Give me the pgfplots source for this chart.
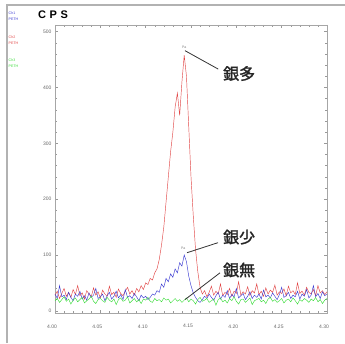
\documentclass[border=0pt]{standalone}
\usepackage{pgfplots}
\pgfplotsset{compat=1.18}
\usepackage{pgfplotstable}
\usepackage{fontspec}
\setmainfont{Liberation Sans}
\newfontfamily\jp[FakeBold=1.6]{Noto Sans CJK JP}

\definecolor{cred}{RGB}{225,70,70}
\definecolor{cblue}{RGB}{60,60,210}
\definecolor{cgreen}{RGB}{60,220,60}

\pgfplotstableread{
x r b g
4.0000 28 30 18
4.0025 35 22 22
4.0050 22 45 15
4.0075 31 25 20
4.0100 40 28 25
4.0125 26 20 17
4.0150 33 33 21
4.0175 24 24 12
4.0200 38 18 19
4.0225 29 30 23
4.0250 45 26 16
4.0275 27 35 20
4.0300 32 21 24
4.0325 21 27 14
4.0350 36 19 18
4.0375 30 32 21
4.0400 25 24 26
4.0425 41 28 17
4.0450 28 40 13
4.0475 34 22 20
4.0500 23 25 22
4.0525 37 30 18
4.0550 30 18 15
4.0575 26 27 24
4.0600 44 33 19
4.0625 29 21 16
4.0650 33 26 21
4.0675 24 35 11
4.0700 39 23 20
4.0725 31 29 23
4.0750 27 20 17
4.0775 35 38 19
4.0800 42 24 25
4.0825 30 27 14
4.0850 36 22 18
4.0875 28 31 22
4.0900 40 25 16
4.0925 34 18 20
4.0950 45 28 13
4.0975 38 23 21
4.1000 50 26 19
4.1025 47 20 24
4.1050 58 24 17
4.1075 55 30 15
4.1100 68 28 22
4.1125 75 36 18
4.1150 92 33 20
4.1175 118 48 16
4.1200 150 42 23
4.1225 195 58 19
4.1250 240 52 21
4.1275 285 66 14
4.1300 320 60 18
4.1325 365 75 22
4.1350 390 68 17
4.1375 350 86 20
4.1400 410 80 15
4.1425 458 100 19
4.1450 420 88 23
4.1475 330 62 16
4.1500 240 45 21
4.1525 170 32 18
4.1550 110 24 12
4.1575 70 18 20
4.1600 42 15 24
4.1625 30 20 17
4.1650 36 26 19
4.1675 25 22 22
4.1700 33 30 15
4.1725 44 24 18
4.1750 28 19 21
4.1775 35 27 10
4.1800 30 33 20
4.1825 48 21 23
4.1850 27 28 16
4.1875 33 24 19
4.1900 29 36 14
4.1925 40 22 22
4.1950 26 29 18
4.1975 35 25 25
4.2000 31 40 17
4.2025 52 23 12
4.2050 28 27 20
4.2075 34 31 21
4.2100 30 20 15
4.2125 43 26 19
4.2150 27 34 23
4.2175 36 22 11
4.2200 32 28 18
4.2225 48 24 20
4.2250 29 30 22
4.2275 35 21 16
4.2300 26 37 19
4.2325 41 25 13
4.2350 30 28 21
4.2375 37 23 24
4.2400 33 32 17
4.2425 46 26 20
4.2450 28 20 15
4.2475 34 29 18
4.2500 31 42 22
4.2525 39 24 14
4.2550 27 27 19
4.2575 44 33 21
4.2600 32 22 16
4.2625 36 28 23
4.2650 29 25 18
4.2675 50 35 12
4.2700 31 21 20
4.2725 35 30 17
4.2750 28 26 22
4.2775 42 38 19
4.2800 33 23 15
4.2825 30 28 21
4.2850 38 45 18
4.2875 27 25 24
4.2900 45 31 16
4.2925 32 22 20
4.2950 36 34 13
4.2975 29 27 19
4.3000 34 30 22
}\data

\begin{document}
\begin{tikzpicture}[x=1pt,y=1pt]
\useasboundingbox (0,0) rectangle (345,343);
\draw[gray!60, line width=1.2pt] (7,0) -- (7,338) -- (345,338);
\node[anchor=center, font=\bfseries\fontsize{11}{11}\selectfont] at (53,328) {C\,\,P\,\,S};
\begin{scope}[font=\fontsize{3.6}{4}\selectfont, inner sep=0pt, anchor=west]
\node[anchor=west, text=cblue] at (8.5,330) {Ch1};
\node[anchor=west, text=cblue] at (8.5,324) {PETH};
\node[anchor=west, text=cred] at (8.5,306) {Ch2};
\node[anchor=west, text=cred] at (8.5,300) {PETH};
\node[anchor=west, text=cgreen] at (8.5,283) {Ch3};
\node[anchor=west, text=cgreen] at (8.5,277) {PETH};
\end{scope}
\begin{axis}[
  at={(55pt,30pt)}, anchor=south west,
  scale only axis, width=272pt, height=288pt,
  xmin=4, xmax=4.3, ymin=-4, ymax=512,
  xtick={4,4.05,4.1,4.15,4.2,4.25,4.3},
  ytick={0,100,200,300,400,500},
  minor x tick num=4, minor y tick num=4,
  tick align=inside,
  major tick length=3pt, minor tick length=2pt,
  tick style={gray!80, line width=0.4pt},
  axis line style={gray!70, line width=0.6pt},
  /pgf/number format/assume math mode=true,
  xticklabel style={font=\fontsize{5}{5}\selectfont, text=black!60, /pgf/number format/fixed, /pgf/number format/precision=2, /pgf/number format/fixed zerofill, yshift=-8pt, xshift=-3pt},
  yticklabel style={font=\fontsize{5}{5}\selectfont, text=black!60},
  scaled x ticks=false,
  clip=false,
]
\addplot[cred, line width=0.45pt] table[x=x, y=r] {\data};
\addplot[cblue, line width=0.45pt] table[x=x, y=b] {\data};
\addplot[cgreen, line width=0.45pt] table[x=x, y=g] {\data};
\draw[black!80, line width=0.8pt] (axis cs:4.1434,466) -- (axis cs:4.180,433);
\draw[black!80, line width=0.8pt] (axis cs:4.1456,104) -- (axis cs:4.1798,122);
\draw[black!80, line width=0.8pt] (axis cs:4.1434,20) -- (axis cs:4.182,68);
\node[font=\fontsize{3.5}{4}\selectfont, text=gray] at (axis cs:4.1425,472) {Pa};
\node[font=\fontsize{3.5}{4}\selectfont, text=gray] at (axis cs:4.1415,112) {Pa};
\node[font=\jp\fontsize{16}{16}\selectfont, anchor=west, text=black!85] at (axis cs:4.1815,425) {銀多};
\node[font=\jp\fontsize{16}{16}\selectfont, anchor=west, text=black!85] at (axis cs:4.1815,132) {銀少};
\node[font=\jp\fontsize{16}{16}\selectfont, anchor=west, text=black!85] at (axis cs:4.1815,73) {銀無};
\end{axis}
\end{tikzpicture}
\end{document}
